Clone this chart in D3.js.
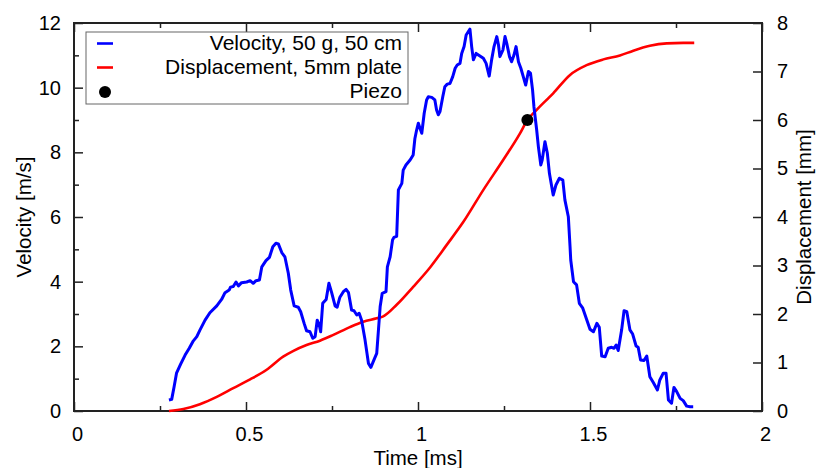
<!DOCTYPE html>
<html>
<head>
<meta charset="utf-8">
<script src="https://cdn.jsdelivr.net/npm/d3@7"></script>
<style>
  body { margin: 0; background: #fff; }
  svg { display: block; font-family: "Liberation Sans", Arial, sans-serif; }
</style>
</head>
<body>
<svg id="chart" width="816" height="468"></svg>
<script>
// ---- Data ----
const velTime = [0.276,0.284,0.291,0.298,0.310,0.323,0.335,0.347,0.357,0.366,0.381,0.395,0.415,0.429,0.439,0.451,0.455,0.463,0.471,0.478,0.487,0.502,0.512,0.521,0.529,0.539,0.546,0.558,0.568,0.578,0.587,0.594,0.604,0.613,0.623,0.630,0.640,0.652,0.659,0.669,0.676,0.686,0.694,0.701,0.707,0.713,0.717,0.723,0.733,0.741,0.749,0.759,0.765,0.773,0.783,0.791,0.798,0.807,0.814,0.822,0.829,0.836,0.846,0.856,0.863,0.872,0.880,0.885,0.890,0.896,0.907,0.911,0.919,0.926,0.930,0.938,0.943,0.948,0.953,0.957,0.965,0.977,0.986,0.991,0.996,1.001,1.006,1.011,1.018,1.025,1.030,1.040,1.049,1.054,1.059,1.064,1.072,1.078,1.085,1.093,1.101,1.108,1.114,1.122,1.127,1.134,1.140,1.146,1.151,1.156,1.161,1.169,1.180,1.190,1.198,1.207,1.214,1.221,1.229,1.234,1.238,1.247,1.253,1.258,1.266,1.272,1.279,1.285,1.292,1.299,1.306,1.313,1.321,1.327,1.333,1.337,1.345,1.350,1.357,1.361,1.369,1.376,1.382,1.393,1.401,1.411,1.421,1.427,1.437,1.442,1.444,1.452,1.461,1.469,1.479,1.488,1.500,1.510,1.520,1.527,1.534,1.544,1.553,1.563,1.570,1.576,1.582,1.592,1.599,1.607,1.616,1.624,1.634,1.640,1.647,1.657,1.665,1.674,1.684,1.696,1.703,1.713,1.721,1.728,1.737,1.744,1.752,1.762,1.771,1.781,1.791,1.800];
const velValue = [0.34,0.36,0.75,1.17,1.45,1.73,1.94,2.17,2.30,2.50,2.81,3.04,3.25,3.45,3.66,3.74,3.83,3.85,3.99,3.87,3.97,3.99,4.03,3.95,4.03,4.05,4.46,4.65,4.75,5.08,5.19,5.17,4.90,4.77,4.26,3.74,3.25,3.21,3.07,2.71,2.48,2.45,2.25,2.30,2.81,2.66,2.45,3.33,3.45,3.95,3.66,3.25,3.21,3.52,3.69,3.76,3.66,3.12,3.10,2.97,3.02,2.81,2.20,1.47,1.35,1.58,1.78,2.50,3.23,3.64,3.69,4.46,4.77,5.29,5.37,5.40,6.84,6.94,7.04,7.45,7.61,7.76,7.92,8.43,8.69,8.90,8.74,8.59,9.21,9.62,9.72,9.70,9.62,9.31,9.16,9.26,9.72,10.03,10.11,10.13,10.34,10.60,10.70,10.75,11.06,11.27,11.63,11.73,11.81,11.27,10.86,11.06,10.98,10.91,10.75,10.36,10.86,11.27,11.58,11.32,10.96,11.17,11.58,11.37,10.96,10.80,11.01,11.27,10.80,10.60,10.34,10.08,10.50,10.45,9.93,9.41,8.69,8.17,7.61,7.76,8.33,7.97,7.35,6.68,6.99,7.20,7.14,6.53,6.01,5.08,4.67,4.00,3.90,3.33,3.18,2.90,2.53,2.45,2.71,2.59,1.70,1.68,1.94,1.97,1.94,2.04,1.87,2.51,3.10,3.07,2.51,2.38,2.01,1.97,1.58,1.56,1.70,1.06,0.88,0.65,0.96,1.17,1.17,0.34,0.24,0.73,0.60,0.39,0.32,0.15,0.13,0.13];

const dispTime = [0.276,0.318,0.366,0.415,0.463,0.512,0.560,0.608,0.638,0.676,0.715,0.754,0.802,0.841,0.880,0.899,0.938,0.986,1.035,1.083,1.132,1.190,1.248,1.297,1.318,1.345,1.393,1.442,1.490,1.539,1.587,1.626,1.674,1.723,1.771,1.803];
const dispValue = [0,0.04,0.14,0.29,0.47,0.65,0.85,1.12,1.24,1.36,1.45,1.57,1.73,1.84,1.91,1.95,2.19,2.56,2.96,3.42,3.90,4.56,5.18,5.73,6.00,6.21,6.55,6.93,7.13,7.25,7.33,7.43,7.53,7.58,7.59,7.59];

const piezoTime = [1.318];
const piezoDisp = [6.0];

const legendLabels = ["Velocity, 50 g, 50 cm", "Displacement, 5mm plate", "Piezo"];
const xMajorTicks = [0, 0.5, 1, 1.5, 2];
const xMinorTicks = [0.25, 0.75, 1.25, 1.75];
const yLeftMajorTicks = [0, 2, 4, 6, 8, 10, 12];
const yLeftMinorTicks = [1, 3, 5, 7, 9, 11];
const yRightTicks = [0, 1, 2, 3, 4, 5, 6, 7, 8];
const xTitle = "Time [ms]";
const yLeftTitle = "Velocity [m/s]";
const yRightTitle = "Displacement [mm]";

// ---- Layout ----
const L = 74, R = 762, T = 23, B = 411;
const svg = d3.select("#chart");
const x = d3.scaleLinear().domain([0, 2]).range([L, R]);
const yV = d3.scaleLinear().domain([0, 12]).range([B, T]);
const yD = d3.scaleLinear().domain([0, 8]).range([B, T]);

const fmt = d => d3.format("")(d);
const axisColor = "#222";

function styleAxis(g) {
  g.select(".domain").remove();
  g.selectAll(".tick line").attr("stroke", axisColor).attr("stroke-width", 1.5);
  g.selectAll(".tick text").attr("fill", "#000").style("font-size", "20px");
}

// bottom
svg.append("g").attr("transform", `translate(0,${B})`)
  .call(d3.axisBottom(x).tickValues(xMajorTicks).tickSize(-9).tickPadding(16).tickFormat(fmt))
  .call(styleAxis)
  .call(g => g.selectAll(".tick text").attr("dx", 3));
svg.append("g").attr("transform", `translate(0,${B})`)
  .call(d3.axisBottom(x).tickValues(xMinorTicks).tickSize(-5).tickFormat(""))
  .call(styleAxis);
// top
svg.append("g").attr("transform", `translate(0,${T})`)
  .call(d3.axisTop(x).tickValues(xMajorTicks).tickSize(-9).tickFormat(""))
  .call(styleAxis);
svg.append("g").attr("transform", `translate(0,${T})`)
  .call(d3.axisTop(x).tickValues(xMinorTicks).tickSize(-5).tickFormat(""))
  .call(styleAxis);
// left
svg.append("g").attr("transform", `translate(${L},0)`)
  .call(d3.axisLeft(yV).tickValues(yLeftMajorTicks).tickSize(-9).tickPadding(13).tickFormat(fmt))
  .call(styleAxis);
svg.append("g").attr("transform", `translate(${L},0)`)
  .call(d3.axisLeft(yV).tickValues(yLeftMinorTicks).tickSize(-5).tickFormat(""))
  .call(styleAxis);
// right
svg.append("g").attr("transform", `translate(${R},0)`)
  .call(d3.axisRight(yD).tickValues(yRightTicks).tickSize(-9).tickPadding(15).tickFormat(fmt))
  .call(styleAxis);

// frame
svg.append("rect").attr("x", L).attr("y", T).attr("width", R - L).attr("height", B - T)
  .attr("fill", "none").attr("stroke", axisColor).attr("stroke-width", 2);

// lines
const velData = velTime.map((t, i) => [t, velValue[i]]);
const dispData = dispTime.map((t, i) => [t, dispValue[i]]);

svg.append("path").datum(dispData)
  .attr("fill", "none").attr("stroke", "#ff0000").attr("stroke-width", 2.6)
  .attr("stroke-linejoin", "round")
  .attr("d", d3.line().x(d => x(d[0])).y(d => yD(d[1])).curve(d3.curveMonotoneX));

svg.append("path").datum(velData)
  .attr("fill", "none").attr("stroke", "#0000ff").attr("stroke-width", 3)
  .attr("stroke-linejoin", "round")
  .attr("d", d3.line().x(d => x(d[0])).y(d => yV(d[1])));

svg.selectAll("circle.piezo").data(piezoTime.map((t, i) => [t, piezoDisp[i]]))
  .enter().append("circle").attr("class", "piezo")
  .attr("cx", d => x(d[0])).attr("cy", d => yD(d[1])).attr("r", 6).attr("fill", "#000");

// legend
const lg = svg.append("g");
lg.append("rect").attr("x", 86).attr("y", 32).attr("width", 322).attr("height", 72)
  .attr("fill", "#fff").attr("stroke", "#666").attr("stroke-width", 1);
const legendColors = ["#0000ff", "#ff0000", "#000"];
legendLabels.forEach((lab, i) => {
  const yc = 43.5 + i * 24;
  if (i < 2) {
    lg.append("line").attr("x1", 97).attr("x2", 113).attr("y1", yc).attr("y2", yc)
      .attr("stroke", legendColors[i]).attr("stroke-width", 2.6);
  } else {
    lg.append("circle").attr("cx", 105).attr("cy", 92).attr("r", 6).attr("fill", "#000");
  }
  lg.append("text").attr("x", 402).attr("y", 50 + i * 24).attr("text-anchor", "end")
    .style("font-size", "21px").attr("fill", "#000").text(lab);
});

// titles
svg.append("text").attr("x", 418).attr("y", 465).attr("text-anchor", "middle")
  .style("font-size", "20.5px").text(xTitle);
svg.append("text").attr("transform", `translate(31,${(T + B) / 2}) rotate(-90)`)
  .attr("text-anchor", "middle").style("font-size", "20.5px").text(yLeftTitle);
svg.append("text").attr("transform", `translate(811,${(T + B) / 2}) rotate(-90)`)
  .attr("text-anchor", "middle").style("font-size", "20.5px").text(yRightTitle);
</script>
</body>
</html>
